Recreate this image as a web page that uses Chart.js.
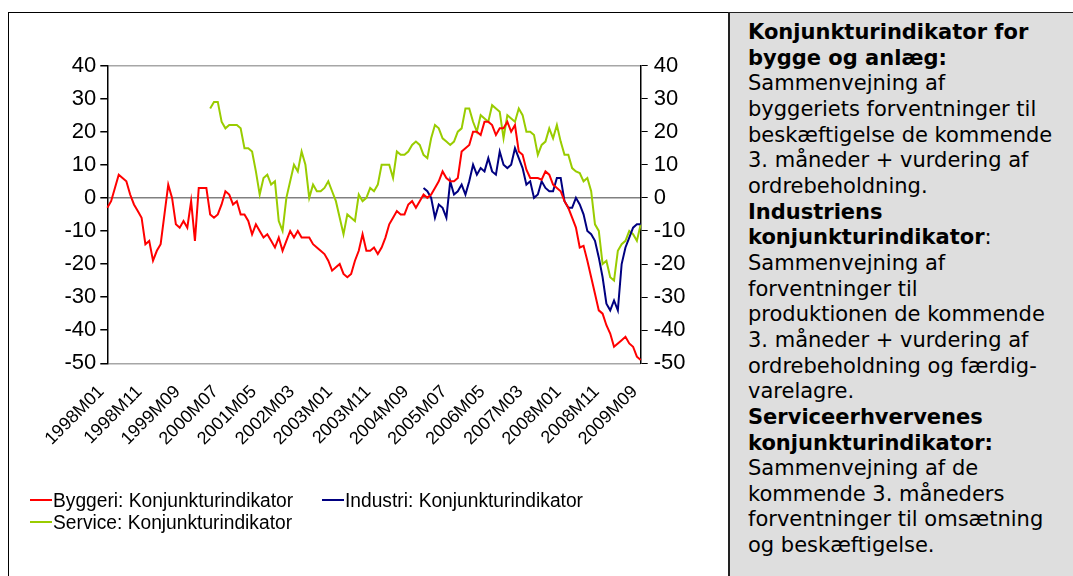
<!DOCTYPE html>
<html><head><meta charset="utf-8">
<script src="https://cdn.jsdelivr.net/npm/chart.js@4.4.1/dist/chart.umd.min.js"></script>
<style>
html,body{margin:0;padding:0;background:#fff;}
body{width:1073px;height:576px;position:relative;overflow:hidden;}
#frame{position:absolute;left:8px;top:12px;width:721px;height:580px;border:1px solid #000;box-sizing:border-box;}
#wrap{position:absolute;left:9px;top:13px;width:718px;height:556px;}
#note{position:absolute;left:728px;top:12px;width:345px;height:580px;background:#dedede;border-left:2px solid #222;border-top:1px solid #222;box-sizing:border-box;padding:7px 0 0 18px;font-family:'DejaVu Sans',Verdana,sans-serif;font-size:21px;line-height:25.65px;color:#000;white-space:nowrap;}
</style>
</head><body>
<div id="frame"></div>
<div id="wrap"><canvas id="c" width="718" height="556"></canvas></div>
<div id="note"><b>Konjunkturindikator for</b><br><b>bygge og anlæg:</b><br>Sammenvejning af<br>byggeriets forventninger til<br>beskæftigelse de kommende<br>3. måneder + vurdering af<br>ordrebeholdning.<br><b>Industriens</b><br><b>konjunkturindikator</b>:<br>Sammenvejning af<br>forventninger til<br>produktionen de kommende<br>3. måneder + vurdering af<br>ordrebeholdning og færdig-<br>varelagre.<br><b>Serviceerhvervenes</b><br><b>konjunkturindikator:</b><br>Sammenvejning af de<br>kommende 3. måneders<br>forventninger til omsætning<br>og beskæftigelse.</div>
<script>
// Categories: monthly 1998M01 .. 2009M09
const startYear = 1998, startMonth = 1, nMonths = 141;
const categories = [];
for (let k = 0; k < nMonths; k++) {
  const y = startYear + Math.floor((startMonth - 1 + k) / 12);
  const m = (startMonth - 1 + k) % 12 + 1;
  categories.push(y + 'M' + (m < 10 ? '0' + m : m));
}
const labelEvery = 10;

const seriesNames = ['Byggeri: Konjunkturindikator', 'Industri: Konjunkturindikator', 'Service: Konjunkturindikator'];

const byggeri = [
  -3, -1, 3, 7, 6, 5, 1, -2, -4, -6,
  -14, -13, -19, -16, -14, -5, 4, 0, -8, -9,
  -7, -9, -1, -13, 3, 3, 3, -5, -6, -5,
  -2, 2, 1, -2, -1, -5, -5, -7, -11, -8,
  -10, -12, -11, -13, -15, -12, -16, -13, -10, -12,
  -10, -12, -12, -12, -14, -15, -16, -17, -19, -22,
  -21, -20, -23, -24, -23, -19, -16, -11, -16, -16,
  -15, -17, -15, -12, -8, -6, -4, -5, -5, -2,
  -1, -3, -1, 1, 0, 1, 3, 5, 8, 6,
  5, 5, 6, 14, 15, 16, 20, 20, 19, 23,
  23, 22, 19, 21, 21, 23, 20, 22, 14, 13,
  8.5, 6, 6, 6, 5.5, 8, 7, 4, 3, 2,
  -1, -3, -6, -9, -15, -14.5, -19, -24, -29, -34,
  -35, -38.5, -41, -45, -44, -43, -42, -44, -45, -48, -49
];

const industriStart = 83;
const industriValues = [
  3, 2, 0, -6, -2, -3, -6, 5, 1, 2,
  4, 1, 5, 10, 7, 9, 8, 12, 8, 7,
  14, 10, 9, 10, 15, 12, 9, 4, 5, 0,
  1, 5, 3, 2, 2, 6, 6, -1, -3, -3,
  0, -2, -5, -10, -11, -13, -18, -24, -32, -34,
  -31, -34, -20, -15, -12, -9, -8, -8
];

const serviceStart = 27;
const serviceValues = [
  27, 29, 29, 23, 21, 22, 22, 22, 21, 15,
  15, 14, 8, 1, 6, 7, 4, 5, -7, -10,
  0, 5, 10, 8, 14, 10, 0, 4, 2, 2,
  3, 5, 2, -1, -6, -11, -5, -6, -7, 1,
  -1, 0, 3, 2, 4, 10, 10, 10, 6, 14,
  13, 13, 14, 16, 17, 16, 13, 12, 18, 22,
  21, 18, 17, 16, 17, 20, 21, 27, 27, 23,
  20, 25, 24, 23, 28, 27, 26, 18, 25, 24,
  23, 27, 25, 20, 20, 19, 13, 16, 17, 21,
  18, 22, 17, 13, 13, 9, 8, 7.5, 5, 6,
  2, -8, -10, -20, -19, -24, -25, -16, -14, -13,
  -10, -11, -13, -8
];

const industri = new Array(industriStart).fill(null).concat(industriValues);
const service = new Array(serviceStart).fill(null).concat(serviceValues);

const yMin = -50, yMax = 40, yStep = 10;
const colors = ['#ff0000', '#000080', '#99cc00'];

const legendPlugin = {
  id: 'customLegend',
  afterDraw(chart) {
    const ctx = chart.ctx;
    const slots = [{x: 21, y: 487}, {x: 313, y: 487}, {x: 21, y: 509}];
    ctx.save();
    chart.data.datasets.forEach((ds, i) => {
      const s = slots[i];
      ctx.strokeStyle = ds.borderColor;
      ctx.lineWidth = 2;
      ctx.beginPath();
      ctx.moveTo(s.x, s.y);
      ctx.lineTo(s.x + 22, s.y);
      ctx.stroke();
      ctx.save();
      ctx.translate(s.x + 23, s.y);
      ctx.scale(0.96, 1);
      ctx.fillStyle = '#000';
      ctx.font = '20px "Liberation Sans", Arial, sans-serif';
      ctx.textBaseline = 'middle';
      ctx.textAlign = 'left';
      ctx.fillText(ds.label, 0, 1);
      ctx.restore();
    });
    ctx.restore();
  }
};

const tickFont = {family: '"Liberation Sans", Arial, sans-serif', size: 22};

new Chart(document.getElementById('c'), {
  type: 'line',
  data: {
    labels: categories,
    datasets: [
      {label: seriesNames[0], data: byggeri, borderColor: colors[0], backgroundColor: colors[0], borderWidth: 2, pointRadius: 0, tension: 0, yAxisID: 'y'},
      {label: seriesNames[1], data: industri, borderColor: colors[1], backgroundColor: colors[1], borderWidth: 2, pointRadius: 0, tension: 0, yAxisID: 'y'},
      {label: seriesNames[2], data: service, borderColor: colors[2], backgroundColor: colors[2], borderWidth: 2, pointRadius: 0, tension: 0, yAxisID: 'y'}
    ]
  },
  options: {
    responsive: false,
    animation: false,
    devicePixelRatio: 1,
    layout: {padding: {left: 10, right: 10, top: 52.5, bottom: 65.7}},
    plugins: {legend: {display: false}, tooltip: {enabled: false}},
    scales: {
      x: {
        type: 'category',
        offset: false,
        grid: {display: false},
        border: {display: false},
        ticks: {
          autoSkip: false, minRotation: 45, maxRotation: 45, padding: 10, labelOffset: -6,
          color: '#000', font: {family: '"Liberation Sans", Arial, sans-serif', size: 18},
          callback: function(v, i) { return i % labelEvery === 0 ? this.getLabelForValue(v) : null; }
        },
        afterFit: s => { s.height = 140; }
      },
      y: {
        position: 'left', min: yMin, max: yMax,
        ticks: {stepSize: yStep, color: '#000', font: tickFont, padding: 4},
        grid: {
          color: c => c.tick.value === 0 ? '#808080' : ((c.tick.value === yMax || c.tick.value === yMin) ? '#a6a6a6' : 'rgba(0,0,0,0)'),
          lineWidth: 1.5,
          tickColor: '#000', tickLength: 7, drawTicks: true
        },
        border: {display: true, color: '#000', width: 1.5},
        afterFit: s => { s.width = 88.3; }
      },
      y2: {
        position: 'right', min: yMin, max: yMax,
        ticks: {stepSize: yStep, color: '#000', font: tickFont, padding: 6},
        grid: {drawOnChartArea: false, tickColor: '#000', tickLength: 7},
        border: {display: true, color: '#000', width: 1.5},
        afterFit: s => { s.width = 76.3; }
      }
    }
  },
  plugins: [legendPlugin]
});
</script>
</body></html>
